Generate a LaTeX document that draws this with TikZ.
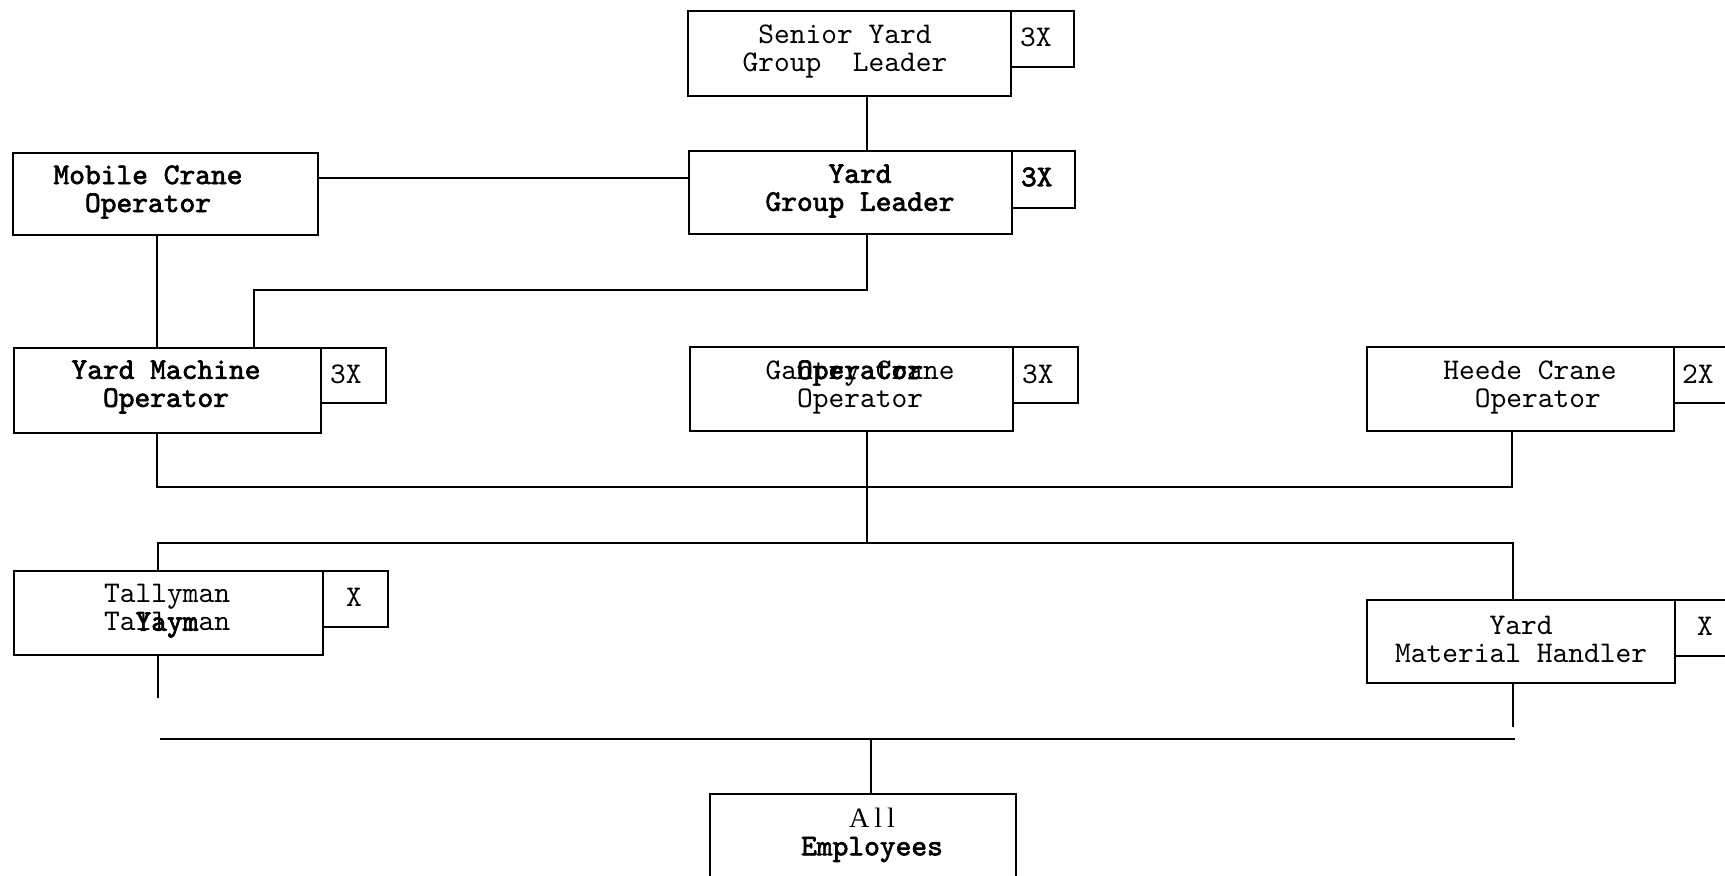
\documentclass[tikz,border=0pt]{standalone}
\usepackage{fontspec}
\setmainfont{lmmono10-regular.otf}[BoldFont=lmmono10-regular.otf, BoldFeatures={FakeBold=2.2}]
\newfontfamily\serifpart{Liberation Serif}
\begin{document}
\begin{tikzpicture}[x=0.5pt,y=-0.5pt,
  line width=1pt,
  box/.style={draw, line width=1pt, inner sep=0pt, anchor=north west},
  lbl/.style={inner sep=0pt, align=center, font=\fontsize{15}{14}\selectfont},
  tag/.style={inner sep=0pt, anchor=west, font=\fontsize{15}{14}\selectfont}]
\useasboundingbox (0,0) rectangle (1725,875);
% boxes
\node[box, minimum width=161.5pt, minimum height=42.5pt] (senior) at (687,10) {};
\node[box, minimum width=31.5pt, minimum height=28pt] (seniorx) at (1010,10) {};
\node[box, minimum width=161.5pt, minimum height=41.5pt] (ygl) at (688,150) {};
\node[box, minimum width=31.5pt, minimum height=28.5pt] (yglx) at (1011,150) {};
\node[box, minimum width=152.5pt, minimum height=41pt] (mobile) at (12,152) {};
\node[box, minimum width=153.5pt, minimum height=42.5pt] (ymo) at (13,347) {};
\node[box, minimum width=32.5pt, minimum height=27.5pt] (ymox) at (320,347) {};
\node[box, minimum width=161.5pt, minimum height=42pt] (gantry) at (689,346) {};
\node[box, minimum width=32.5pt, minimum height=28pt] (gantryx) at (1012,346) {};
\node[box, minimum width=153.5pt, minimum height=42pt] (heede) at (1366,346) {};
\node[box, minimum width=40pt, minimum height=28pt] (heedex) at (1673,346) {};
\node[box, minimum width=154.5pt, minimum height=42pt] (tally) at (13,570) {};
\node[box, minimum width=32.5pt, minimum height=28pt] (tallyx) at (322,570) {};
\node[box, minimum width=154pt, minimum height=41.5pt] (ymh) at (1366,599) {};
\node[box, minimum width=40pt, minimum height=28pt] (ymhx) at (1674,599) {};
\node[box, minimum width=153pt, minimum height=50pt] (all) at (709,793) {};
% labels
\node[lbl] (tsenior) at (845,51) {Senior Yard\\Group\ \ Leader};
\node[tag] (tseniorx) at (1019,37) {3X};
\node[lbl, font=\fontsize{15}{14}\selectfont\bfseries] (tygl) at (860,191) {Yard\\Group Leader};
\node[tag, font=\fontsize{15}{14}\selectfont\bfseries] (tyglx) at (1020,177) {3X};
\node[lbl, font=\fontsize{15}{14}\selectfont\bfseries] (tmobile) at (148,192) {Mobile Crane\\Operator};
\node[lbl, font=\fontsize{15}{14}\selectfont\bfseries] (tymo) at (166,387) {Yard Machine\\Operator};
\node[tag] (tymox) at (329,374) {3X};
\node[lbl] (tgantry) at (860,387) {\rlap{Gantry Crane}\phantom{Ga}\textbf{Operator}\phantom{ne}\\Operator};
\node[tag] (tgantryx) at (1021,374) {3X};
\node[lbl] (theede) at (1530,387) {Heede Crane\\\ Operator};
\node[tag] (theedex) at (1681,374) {2X};
\node[lbl] (ttally) at (167,611) {Tallyman\\\rlap{Tallyman}\phantom{Ta}\textbf{Yaym}\phantom{an}};
\node[lbl] (ttallyx) at (354,597) {X};
\node[lbl] (tymh) at (1521,639) {Yard\\Material Handler};
\node[lbl] (tymhx) at (1705,626) {X};
\node[lbl] (tall) at (872,835) {{\serifpart\fontsize{14}{14}\selectfont A\hspace{2.5pt}l\hspace{2.5pt}l}\\\textbf{Employees}};
% connector coordinates
\coordinate (xmid) at (867,0);
\coordinate (h1) at (0,178);
\coordinate (xl) at (157,0);
\coordinate (b1) at (254,290);
\coordinate (bus1L) at (157,487);
\coordinate (bus1R) at (1512,487);
\coordinate (bus2L) at (158,543);
\coordinate (bus2R) at (1513,543);
\coordinate (stubL) at (158,698);
\coordinate (stubR) at (1513,727);
\coordinate (bus3L) at (160,739);
\coordinate (bus3R) at (1515,739);
\coordinate (xall) at (871,0);
% connectors
\draw (senior.south -| xmid) -- (ygl.north -| xmid);
\draw (mobile.east |- h1) -- (ygl.west |- h1);
\draw (mobile.south -| xl) -- (ymo.north -| xl);
\draw (ygl.south -| xmid) |- (b1) -- (ymo.north -| b1);
\draw (ymo.south -| bus1L) -- (bus1L) -- (bus1R) -- (heede.south -| bus1R);
\draw (gantry.south -| xmid) -- (bus2L -| xmid);
\draw (tally.north -| bus2L) -- (bus2L) -- (bus2R) -- (ymh.north -| bus2R);
\draw (tally.south -| stubL) -- (stubL);
\draw (ymh.south -| stubR) -- (stubR);
\draw (bus3L) -- (bus3R);
\draw (bus3L -| xall) -- (all.north -| xall);
\end{tikzpicture}
\end{document}
